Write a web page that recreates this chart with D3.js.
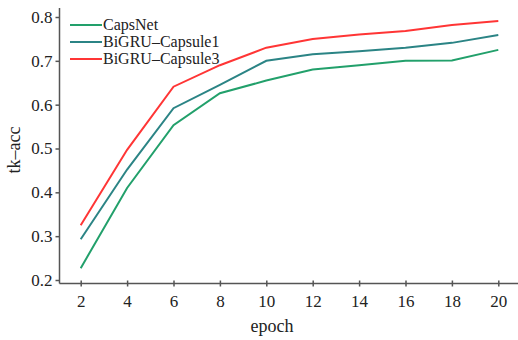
<!DOCTYPE html>
<html>
<head>
<meta charset="utf-8">
<script src="https://cdn.jsdelivr.net/npm/d3@7"></script>
<style>
  body { margin: 0; background: #fff; }
</style>
</head>
<body>
<div id="chart"></div>
<script>
// data
const epochs = [2, 4, 6, 8, 10, 12, 14, 16, 18, 20];
const capsNet = [0.227, 0.41, 0.553, 0.626, 0.655, 0.68, 0.69, 0.70, 0.701, 0.725];
const capsule1 = [0.293, 0.452, 0.592, 0.645, 0.70, 0.715, 0.722, 0.73, 0.741, 0.759];
const capsule3 = [0.325, 0.497, 0.641, 0.69, 0.73, 0.75, 0.76, 0.768, 0.782, 0.791];
const seriesNames = ['CapsNet', 'BiGRU\u2013Capsule1', 'BiGRU\u2013Capsule3'];
const seriesColors = ['#22a06b', '#2b8485', '#ff3535'];
const yTicks = [0.2, 0.3, 0.4, 0.5, 0.6, 0.7, 0.8];

const width = 518, height = 340;
const fontFamily = '"Liberation Serif", "Times New Roman", "DejaVu Serif", serif';
const series = [capsNet, capsule1, capsule3].map((values, i) => ({
  name: seriesNames[i],
  color: seriesColors[i],
  values
}));

const svg = d3.select('#chart').append('svg')
  .attr('width', width)
  .attr('height', height);

const x = d3.scaleLinear().domain([2, 20]).range([80.7, 498.3]);
const y = d3.scaleLinear().domain([0.2, 0.8]).range([280, 17]);
const axisLeftX = 59.5, axisBottomY = 283.5;

// y axis
const yAxis = svg.append('g')
  .attr('transform', `translate(${axisLeftX},0)`)
  .call(d3.axisLeft(y).tickValues(yTicks).tickFormat(d3.format('.1f')).tickSize(4).tickSizeOuter(0));
yAxis.select('.domain').remove();
yAxis.append('line')
  .attr('y1', 8).attr('y2', axisBottomY)
  .attr('stroke', '#555').attr('stroke-width', 1.5);
yAxis.selectAll('.tick line').attr('stroke', '#555').attr('stroke-width', 1.5);
yAxis.selectAll('.tick text').attr('x', -7);

// x axis
const xAxis = svg.append('g')
  .attr('transform', `translate(0,${axisBottomY})`)
  .call(d3.axisBottom(x).tickValues(epochs).tickSize(3).tickSizeOuter(0).tickPadding(8));
xAxis.select('.domain').remove();
xAxis.append('line')
  .attr('x1', axisLeftX).attr('x2', width)
  .attr('stroke', '#555').attr('stroke-width', 1.5);
xAxis.selectAll('.tick line').attr('y1', -3).attr('stroke', '#555').attr('stroke-width', 1.5);

[yAxis, xAxis].forEach(ax => ax.attr('font-family', null).attr('font-size', null)
  .selectAll('.tick text')
  .style('font-family', fontFamily)
  .style('font-size', '17px')
  .attr('fill', '#222'));

// axis titles
svg.append('text')
  .attr('transform', `translate(20,150) rotate(-90)`)
  .attr('text-anchor', 'middle')
  .style('font-family', fontFamily)
  .style('font-size', '18px')
  .attr('fill', '#222')
  .text('tk\u2013acc');
svg.append('text')
  .attr('x', 272).attr('y', 332)
  .attr('text-anchor', 'middle')
  .style('font-family', fontFamily)
  .style('font-size', '18px')
  .attr('fill', '#222')
  .text('epoch');

// lines
const line = d3.line()
  .x((d, i) => x(epochs[i]))
  .y(d => y(d));

svg.append('g').selectAll('path')
  .data(series)
  .join('path')
  .attr('d', d => line(d.values))
  .attr('fill', 'none')
  .attr('stroke', d => d.color)
  .attr('stroke-width', 2);

// legend
const legend = svg.append('g').attr('transform', 'translate(70,25)');
const rows = legend.selectAll('g')
  .data(series)
  .join('g')
  .attr('transform', (d, i) => `translate(0,${i * 17})`);
rows.append('line')
  .attr('x1', 0).attr('x2', 32)
  .attr('stroke', d => d.color)
  .attr('stroke-width', 2);
rows.append('text')
  .attr('x', 33).attr('y', 5)
  .style('font-family', fontFamily)
  .style('font-size', '16px')
  .attr('fill', '#222')
  .text(d => d.name);
</script>
</body>
</html>
